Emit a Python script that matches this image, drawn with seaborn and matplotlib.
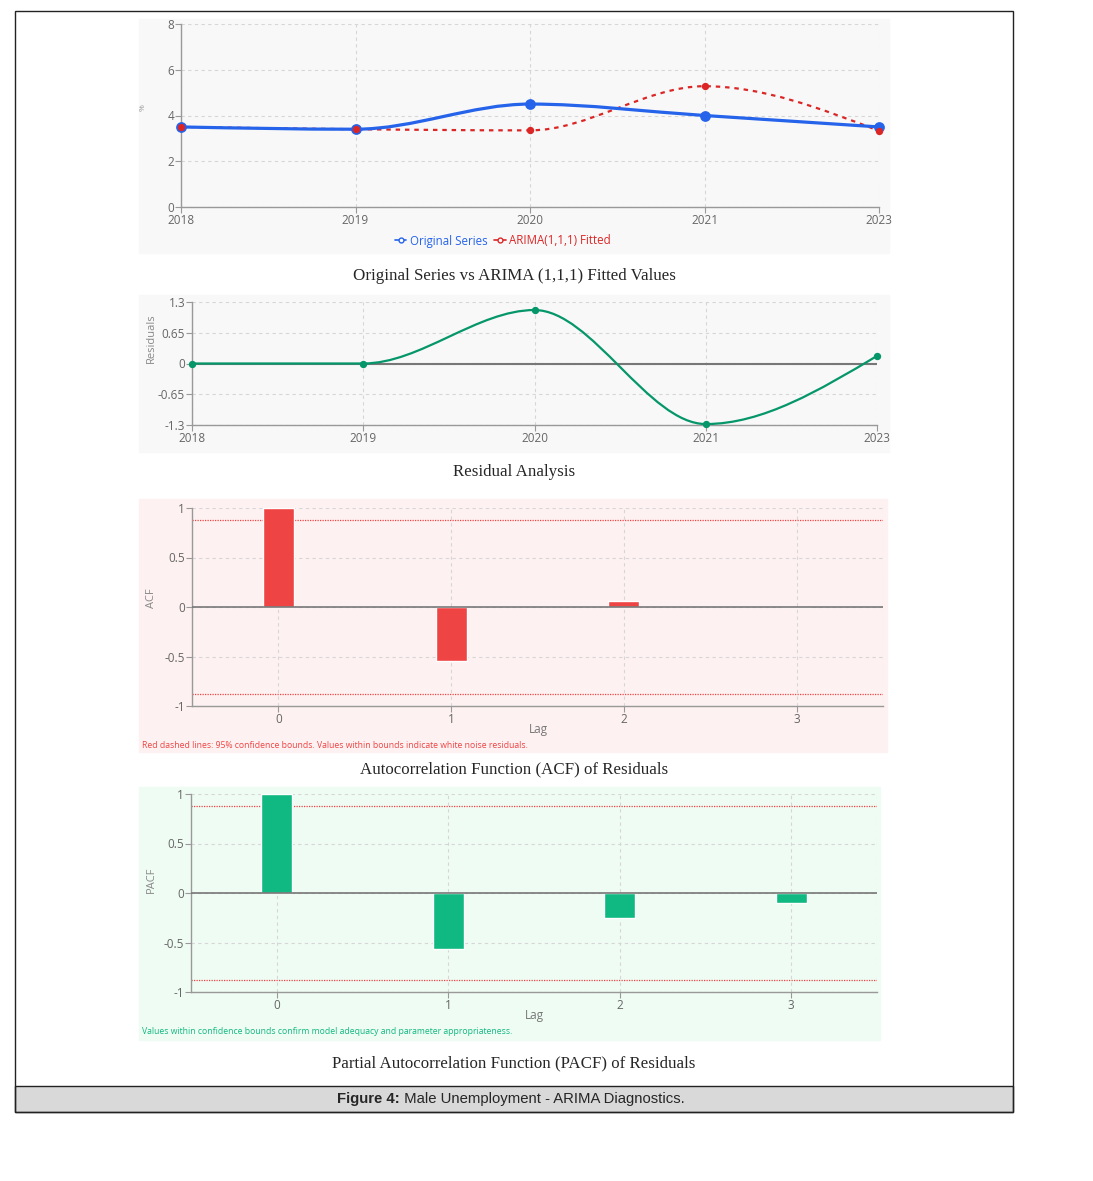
import numpy as np
import pandas as pd
import matplotlib
matplotlib.use('Agg')
import matplotlib.pyplot as plt
import seaborn as sns
from matplotlib.path import Path
from matplotlib.patches import PathPatch, Rectangle
from matplotlib.lines import Line2D

# values
years = ['2018', '2019', '2020', '2021', '2023']
original = [3.5, 3.4, 4.5, 4.0, 3.5]
fitted = [3.5, 3.4, 3.35, 5.28, 3.33]
residuals = [0.0, 0.0, 1.13, -1.28, 0.16]
lags = [0, 1, 2, 3]
acf_vals = [1.0, -0.55, 0.065, 0.0]
pacf_vals = [1.0, -0.565, -0.25, -0.10]
conf_bound = 0.877

sns.set_theme(style='white')
plt.rcParams['font.family'] = ['Open Sans', 'DejaVu Sans']

W, H = 1093, 1181
fig = plt.figure(figsize=(W / 100, H / 100), dpi=100)


def rect(x0, y0, x1, y1):
    return [x0 / W, 1 - y1 / H, (x1 - x0) / W, (y1 - y0) / H]


def panel_bg(x0, y0, x1, y1, color):
    fig.patches.append(Rectangle((x0 / W, 1 - y1 / H), (x1 - x0) / W, (y1 - y0) / H,
                                 transform=fig.transFigure, color=color, zorder=-5))


def monotone(ax, xs, ys, **kw):
    # monotone cubic line shape (same idea as d3 curveMonotoneX)
    x = np.asarray(xs, float)
    y = np.asarray(ys, float)
    n = len(x)
    h = np.diff(x)
    s = np.diff(y) / h
    t = np.zeros(n)
    for i in range(1, n - 1):
        p = (s[i - 1] * h[i] + s[i] * h[i - 1]) / (h[i - 1] + h[i])
        t[i] = (np.sign(s[i - 1]) + np.sign(s[i])) * min(abs(s[i - 1]), abs(s[i]), 0.5 * abs(p))
    t[0] = (3 * s[0] - t[1]) / 2
    t[-1] = (3 * s[-1] - t[-2]) / 2
    verts = [(x[0], y[0])]
    codes = [Path.MOVETO]
    for i in range(n - 1):
        dx = h[i] / 3
        verts += [(x[i] + dx, y[i] + dx * t[i]), (x[i + 1] - dx, y[i + 1] - dx * t[i + 1]),
                  (x[i + 1], y[i + 1])]
        codes += [Path.CURVE4] * 3
    ax.add_patch(PathPatch(Path(verts, codes), fill=False, **kw))


def style_axes(ax):
    ax.set_facecolor('none')
    ax.grid(True, ls=(0, (3, 3)), color='#d6d6d6', lw=0.8)
    ax.set_axisbelow(True)
    for s in ['top', 'right']:
        ax.spines[s].set_visible(False)
    for s in ['left', 'bottom']:
        ax.spines[s].set_color('#999999')
        ax.spines[s].set_linewidth(1.0)
    ax.tick_params(length=4, width=0.8, color='#999999', labelcolor='#666666',
                   labelsize=8.5, pad=1, bottom=True, left=True)
    ax.set_xlabel('')
    ax.set_ylabel('')


idx = np.arange(len(years))
cap_kw = dict(family='Liberation Serif', fontsize=12.2, ha='center', va='center')

# ---- panel 1: original vs fitted
panel_bg(139, 19, 889, 253, '#f8f8f8')
ax1 = fig.add_axes(rect(181, 24, 879, 207))
monotone(ax1, idx, fitted, edgecolor='#dc2626', lw=1.6, ls=(0, (2, 2.2)), zorder=3)
monotone(ax1, idx, original, edgecolor='#2563eb', lw=2.3, zorder=4)
sns.scatterplot(x=idx, y=fitted, ax=ax1, color='#dc2626', s=28, linewidth=0, zorder=6, clip_on=False)
sns.scatterplot(x=idx, y=original, ax=ax1, color='#2563eb', s=60, linewidth=0, zorder=5, clip_on=False)
ax1.set_xlim(0, 4)
ax1.set_ylim(0, 8)
ax1.set_xticks(idx, years)
ax1.set_yticks([0, 2, 4, 6, 8])
style_axes(ax1)
fig.text(140 / W, 1 - 108 / H, '%', rotation=90, fontsize=6, color='#999999', ha='left', va='center')
handles = [Line2D([], [], color='#2563eb', lw=1.2, marker='o', markersize=3.5, markerfacecolor='white'),
           Line2D([], [], color='#dc2626', lw=1.2, marker='o', markersize=3.5, markerfacecolor='white')]
leg = fig.legend(handles, ['Original Series', 'ARIMA(1,1,1) Fitted'], loc='center',
                 bbox_to_anchor=(503 / W, 1 - 241 / H), ncol=2, frameon=False, fontsize=8.3,
                 handlelength=1.0, handletextpad=0.3, columnspacing=0.6)
for t, c in zip(leg.get_texts(), ['#2563eb', '#dc2626']):
    t.set_color(c)
fig.text(514 / W, 1 - 276 / H, 'Original Series vs ARIMA (1,1,1) Fitted Values', **cap_kw)

# ---- panel 2: residuals
panel_bg(139, 295, 889, 452, '#f8f8f8')
ax2 = fig.add_axes(rect(192, 302, 877, 425))
ax2.axhline(0, color='#777777', lw=1.5, zorder=2)
monotone(ax2, idx, residuals, edgecolor='#059669', lw=1.6, zorder=3)
sns.scatterplot(x=idx, y=residuals, ax=ax2, color='#059669', s=28, linewidth=0, zorder=5, clip_on=False)
ax2.set_xlim(0, 4)
ax2.set_ylim(-1.3, 1.3)
ax2.set_xticks(idx, years)
ax2.set_yticks([-1.3, -0.65, 0, 0.65, 1.3], ['-1.3', '-0.65', '0', '0.65', '1.3'])
style_axes(ax2)
fig.text(151 / W, 1 - 338 / H, 'Residuals', rotation=90, fontsize=8, color='#888888', ha='center', va='center')
fig.text(514 / W, 1 - 472 / H, 'Residual Analysis', **cap_kw)


def corr_panel(ax, vals, bar_color, ylabel, ylab_y, lag_xy):
    sns.barplot(x=lags, y=vals, ax=ax, color=bar_color, width=0.18, saturation=1, zorder=3)
    ax.axhline(0, color='#777777', lw=1.2, zorder=4)
    ax.axhline(conf_bound, color='#ef4444', lw=0.9, ls=(0, (1, 1)), zorder=2)
    ax.axhline(-conf_bound, color='#ef4444', lw=0.9, ls=(0, (1, 1)), zorder=2)
    ax.axvline(3.5, color='#d6d6d6', lw=0.8, ls=(0, (3, 3)))
    ax.set_xlim(-0.5, 3.5)
    ax.set_ylim(-1, 1)
    ax.set_yticks([-1, -0.5, 0, 0.5, 1], ['-1', '-0.5', '0', '0.5', '1'])
    style_axes(ax)
    fig.text(151 / W, 1 - ylab_y / H, ylabel, rotation=90, fontsize=8, color='#888888',
             ha='center', va='center')
    fig.text(lag_xy[0] / W, 1 - lag_xy[1] / H, 'Lag', fontsize=8.5, color='#777777',
             ha='center', va='center')


# ---- panel 3: ACF
panel_bg(139, 499, 887, 752, '#fef1f1')
ax3 = fig.add_axes(rect(192, 508, 883, 706))
corr_panel(ax3, acf_vals, '#ef4444', 'ACF', 598, (538, 729))
fig.text(142 / W, 1 - 745 / H,
         'Red dashed lines: 95% confidence bounds. Values within bounds indicate white noise residuals.',
         fontsize=6.2, color='#ef4444', ha='left', va='center')
fig.text(514 / W, 1 - 769 / H, 'Autocorrelation Function (ACF) of Residuals', **cap_kw)

# ---- panel 4: PACF
panel_bg(139, 787, 880, 1040, '#effcf3')
ax4 = fig.add_axes(rect(191, 794, 877, 992))
corr_panel(ax4, pacf_vals, '#10b981', 'PACF', 880, (534, 1015))
fig.text(142 / W, 1 - 1031 / H,
         'Values within confidence bounds confirm model adequacy and parameter appropriateness.',
         fontsize=6.2, color='#10b981', ha='left', va='center')
fig.text(514 / W, 1 - 1063 / H, 'Partial Autocorrelation Function (PACF) of Residuals', **cap_kw)

# ---- outer frame and figure caption
fig.patches.append(Rectangle((15 / W, 1 - 1112 / H), 998 / W, 26 / H, transform=fig.transFigure,
                             facecolor='#d9d9d9', edgecolor='#222222', lw=1, zorder=-4))
fig.patches.append(Rectangle((15 / W, 1 - 1112 / H), 998 / W, 1101 / H, transform=fig.transFigure,
                             facecolor='none', edgecolor='#222222', lw=1, zorder=-4))
fig.text(400 / W, 1 - 1099 / H, 'Figure 4:', family='Liberation Sans', fontweight='bold',
         fontsize=10.7, ha='right', va='center')
fig.text(400 / W, 1 - 1099 / H, ' Male Unemployment - ARIMA Diagnostics.', family='Liberation Sans',
         fontsize=10.7, ha='left', va='center')

fig.savefig('out.png', dpi=100)
